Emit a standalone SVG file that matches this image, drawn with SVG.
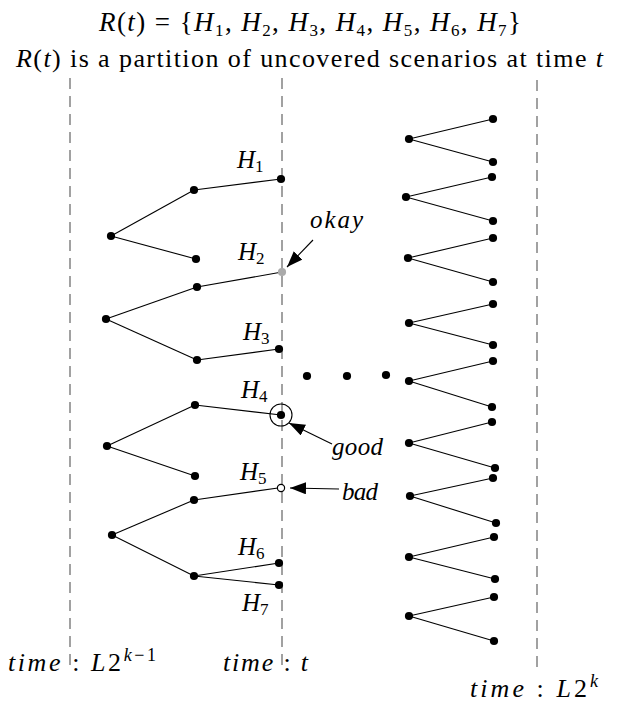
<svg xmlns="http://www.w3.org/2000/svg" width="619" height="704" viewBox="0 0 619 704">
<style>
.t{font-family:"Liberation Serif",serif;fill:#000}
.i{font-style:italic}
.lbl{font-family:"Liberation Serif",serif;font-style:italic;font-size:25px}
.sub{font-size:17px;font-style:normal}
.sup{font-size:18px}
.dash{stroke:#555;stroke-width:1.1;stroke-dasharray:11 7;fill:none}
.e{stroke:#000;stroke-width:1.1;fill:none}
.d{fill:#000}
.arr{stroke:#000;stroke-width:1.1;fill:none;marker-end:url(#ah)}
</style>
<defs>
<marker id="ah" markerUnits="userSpaceOnUse" markerWidth="18" markerHeight="13" refX="16" refY="6" orient="auto">
<path d="M0,0 L16,6 L0,12 z" fill="#000"/>
</marker>
</defs>
<rect width="619" height="704" fill="#fff"/>

<g id="title">
<text class="t" x="99" y="31" font-size="27" textLength="422" lengthAdjust="spacing"><tspan class="i">R</tspan>(<tspan class="i">t</tspan>) = {<tspan class="i">H</tspan><tspan class="sub" dy="5">1</tspan><tspan dy="-5">, </tspan><tspan class="i">H</tspan><tspan class="sub" dy="5">2</tspan><tspan dy="-5">, </tspan><tspan class="i">H</tspan><tspan class="sub" dy="5">3</tspan><tspan dy="-5">, </tspan><tspan class="i">H</tspan><tspan class="sub" dy="5">4</tspan><tspan dy="-5">, </tspan><tspan class="i">H</tspan><tspan class="sub" dy="5">5</tspan><tspan dy="-5">, </tspan><tspan class="i">H</tspan><tspan class="sub" dy="5">6</tspan><tspan dy="-5">, </tspan><tspan class="i">H</tspan><tspan class="sub" dy="5">7</tspan><tspan dy="-5">}</tspan></text>
<text class="t" x="16" y="67" font-size="26" textLength="587" lengthAdjust="spacing"><tspan class="i">R</tspan>(<tspan class="i">t</tspan>) is a partition of uncovered scenarios at time <tspan class="i">t</tspan></text>
</g>

<g id="timelines">
<line class="dash" x1="70" y1="78" x2="70" y2="668"/>
<line class="dash" x1="282" y1="78" x2="282" y2="668"/>
<line class="dash" x1="537" y1="80" x2="537" y2="668"/>
</g>

<g id="connectors">
<line class="e" x1="111" y1="236" x2="194" y2="190"/>
<line class="e" x1="111" y1="236" x2="196" y2="259"/>
<line class="e" x1="194" y1="190" x2="281" y2="179"/>
<line class="e" x1="106" y1="319" x2="197" y2="287"/>
<line class="e" x1="106" y1="319" x2="197" y2="360"/>
<line class="e" x1="197" y1="287" x2="282" y2="272"/>
<line class="e" x1="197" y1="360" x2="279" y2="349"/>
<line class="e" x1="107" y1="446" x2="195" y2="405"/>
<line class="e" x1="107" y1="446" x2="195" y2="476"/>
<line class="e" x1="195" y1="405" x2="281" y2="415"/>
<line class="e" x1="112" y1="535" x2="194" y2="500"/>
<line class="e" x1="112" y1="535" x2="194" y2="576"/>
<line class="e" x1="194" y1="500" x2="278" y2="488"/>
<line class="e" x1="194" y1="576" x2="279" y2="563"/>
<line class="e" x1="194" y1="576" x2="279" y2="585"/>
<line class="e" x1="409" y1="139" x2="493" y2="119"/>
<line class="e" x1="409" y1="139" x2="493" y2="162"/>
<line class="e" x1="406" y1="197" x2="492" y2="177"/>
<line class="e" x1="406" y1="197" x2="493" y2="221"/>
<line class="e" x1="408" y1="258" x2="493" y2="238"/>
<line class="e" x1="408" y1="258" x2="493" y2="282"/>
<line class="e" x1="409" y1="323" x2="493" y2="304"/>
<line class="e" x1="409" y1="323" x2="493" y2="345"/>
<line class="e" x1="409" y1="381" x2="493" y2="361"/>
<line class="e" x1="409" y1="381" x2="492" y2="407"/>
<line class="e" x1="409" y1="443" x2="492" y2="422"/>
<line class="e" x1="409" y1="443" x2="495" y2="468"/>
<line class="e" x1="410" y1="496" x2="493" y2="478"/>
<line class="e" x1="410" y1="496" x2="496" y2="523"/>
<line class="e" x1="409" y1="557" x2="494" y2="537"/>
<line class="e" x1="409" y1="557" x2="495" y2="579"/>
<line class="e" x1="409" y1="616" x2="494" y2="597"/>
<line class="e" x1="409" y1="616" x2="494" y2="641"/>
<line class="arr" x1="313" y1="240" x2="287" y2="267"/>
<line class="arr" x1="332" y1="444" x2="289" y2="423"/>
<line class="arr" x1="339" y1="489" x2="290" y2="488"/>
</g>

<g id="left-nodes">
<circle class="d" cx="111" cy="236" r="4.1"/>
<circle class="d" cx="194" cy="190" r="4.1"/>
<circle class="d" cx="196" cy="259" r="4.1"/>
<circle class="d" cx="106" cy="319" r="4.1"/>
<circle class="d" cx="197" cy="287" r="4.1"/>
<circle class="d" cx="197" cy="360" r="4.1"/>
<circle class="d" cx="107" cy="446" r="4.1"/>
<circle class="d" cx="195" cy="405" r="4.1"/>
<circle class="d" cx="195" cy="476" r="4.1"/>
<circle class="d" cx="112" cy="535" r="4.1"/>
<circle class="d" cx="194" cy="500" r="4.1"/>
<circle class="d" cx="194" cy="576" r="4.1"/>
</g>

<g id="H1"><circle class="d" cx="281" cy="179" r="4.1"/><text class="lbl" x="237" y="168">H<tspan class="sub" dy="4">1</tspan></text></g>
<g id="H2"><circle cx="282" cy="272" r="4.1" fill="#aaa"/><text class="lbl" x="238" y="260">H<tspan class="sub" dy="4">2</tspan></text></g>
<g id="H3"><circle class="d" cx="279" cy="349" r="4.1"/><text class="lbl" x="243" y="340">H<tspan class="sub" dy="4">3</tspan></text></g>
<g id="H4"><circle class="d" cx="281" cy="415" r="4.1"/><circle cx="281" cy="415" r="11" fill="none" stroke="#000" stroke-width="1.1"/><text class="lbl" x="241" y="398">H<tspan class="sub" dy="4">4</tspan></text></g>
<g id="H5"><circle cx="281" cy="488" r="3.6" fill="#fff" stroke="#000" stroke-width="1.2"/><text class="lbl" x="240" y="480">H<tspan class="sub" dy="4">5</tspan></text></g>
<g id="H6"><circle class="d" cx="279" cy="563" r="4.1"/><text class="lbl" x="238" y="555">H<tspan class="sub" dy="4">6</tspan></text></g>
<g id="H7"><circle class="d" cx="279" cy="585" r="4.1"/><text class="lbl" x="242" y="611">H<tspan class="sub" dy="4">7</tspan></text></g>

<g id="ellipsis">
<circle class="d" cx="307" cy="376" r="4.1"/>
<circle class="d" cx="347" cy="376" r="4.1"/>
<circle class="d" cx="386" cy="375" r="4.1"/>
</g>

<g id="right-nodes">
<circle class="d" cx="409" cy="139" r="4.1"/><circle class="d" cx="493" cy="119" r="4.1"/><circle class="d" cx="493" cy="162" r="4.1"/>
<circle class="d" cx="406" cy="197" r="4.1"/><circle class="d" cx="492" cy="177" r="4.1"/><circle class="d" cx="493" cy="221" r="4.1"/>
<circle class="d" cx="408" cy="258" r="4.1"/><circle class="d" cx="493" cy="238" r="4.1"/><circle class="d" cx="493" cy="282" r="4.1"/>
<circle class="d" cx="409" cy="323" r="4.1"/><circle class="d" cx="493" cy="304" r="4.1"/><circle class="d" cx="493" cy="345" r="4.1"/>
<circle class="d" cx="409" cy="381" r="4.1"/><circle class="d" cx="493" cy="361" r="4.1"/><circle class="d" cx="492" cy="407" r="4.1"/>
<circle class="d" cx="409" cy="443" r="4.1"/><circle class="d" cx="492" cy="422" r="4.1"/><circle class="d" cx="495" cy="468" r="4.1"/>
<circle class="d" cx="410" cy="496" r="4.1"/><circle class="d" cx="493" cy="478" r="4.1"/><circle class="d" cx="496" cy="523" r="4.1"/>
<circle class="d" cx="409" cy="557" r="4.1"/><circle class="d" cx="494" cy="537" r="4.1"/><circle class="d" cx="495" cy="579" r="4.1"/>
<circle class="d" cx="409" cy="616" r="4.1"/><circle class="d" cx="494" cy="597" r="4.1"/><circle class="d" cx="494" cy="641" r="4.1"/>
</g>

<g id="callouts">
<text class="lbl" x="310" y="228" textLength="53" lengthAdjust="spacing">okay</text>
<text class="lbl" x="332" y="455" textLength="51" lengthAdjust="spacing">good</text>
<text class="lbl" x="342" y="500" textLength="36" lengthAdjust="spacing">bad</text>
</g>

<g id="time-labels">
<text class="t" x="8" y="671" font-size="26" textLength="148" lengthAdjust="spacing"><tspan class="i">time</tspan> : <tspan class="i">L</tspan>2<tspan class="sup i" dy="-10">k</tspan><tspan class="sup">−1</tspan></text>
<text class="t" x="223" y="671" font-size="26" textLength="85" lengthAdjust="spacing"><tspan class="i">time</tspan> : <tspan class="i">t</tspan></text>
<text class="t" x="470" y="697" font-size="26" textLength="128" lengthAdjust="spacing"><tspan class="i">time</tspan> : <tspan class="i">L</tspan>2<tspan class="sup i" dy="-10">k</tspan></text>
</g>
</svg>
